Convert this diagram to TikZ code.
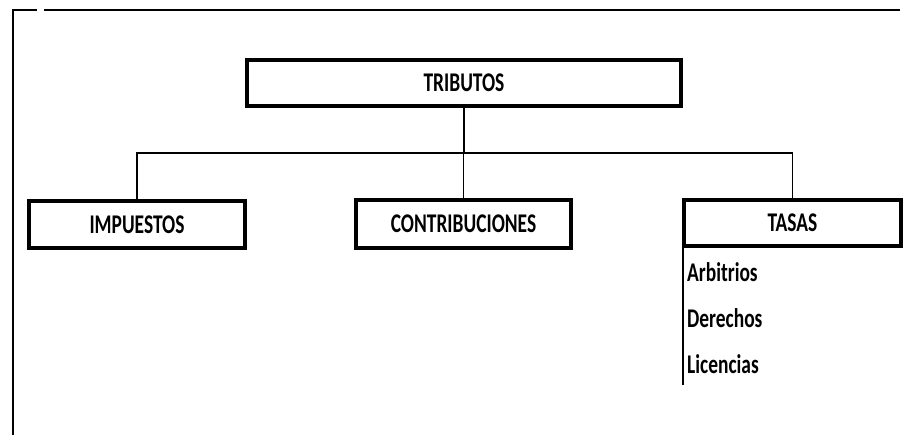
\documentclass[tikz,border=0pt]{standalone}
\usepackage{fontspec}
\newfontfamily\cf{Carlito}[FakeStretch=0.72]
\begin{document}
\begin{tikzpicture}[x=1pt,y=-1pt,
  box/.style={draw=black,line width=3.6pt,inner sep=0pt,font=\cf\bfseries\fontsize{27}{30}\selectfont},
  conn/.style={draw=black,line width=1.4pt},
  frame/.style={draw=black,line width=2.4pt},
  item/.style={anchor=base west,inner sep=0pt,font=\cf\bfseries\fontsize{27}{30}\selectfont}]
\useasboundingbox (0,0) rectangle (914,435);
% frame
\draw[frame] (13,435) -- (13,10) -- (37,10);
\draw[frame] (44,10) -- (900,10);
% boxes
\node[box,minimum width=434pt,minimum height=46pt] (tri) at (464,83) {TRIBUTOS};
\node[box,minimum width=216pt,minimum height=47pt] (imp) at (137,224.5) {IMPUESTOS};
\node[box,minimum width=215pt,minimum height=48pt] (con) at (463.5,224) {CONTRIBUCIONES};
\node[box,minimum width=217pt,minimum height=46pt] (tas) at (792.5,223) {TASAS};
% connectors
\coordinate (j) at (464,153);
\draw[conn] (tri.south) -- (tri.south |- j);
\draw[conn] (imp.north) -- (imp.north |- j) -- (tas.north |- j) -- (tas.north);
\draw[conn] (con.north) -- (con.north |- j);
% side list
\coordinate (s1) at (683,248);
\coordinate (s2) at (683,385);
\draw[conn] (s1) -- (s2);
\node[item] (arb) at (687,282) {Arbitrios};
\node[item] (der) at (687,328) {Derechos};
\node[item] (lic) at (687,374) {Licencias};
\end{tikzpicture}
\end{document}
